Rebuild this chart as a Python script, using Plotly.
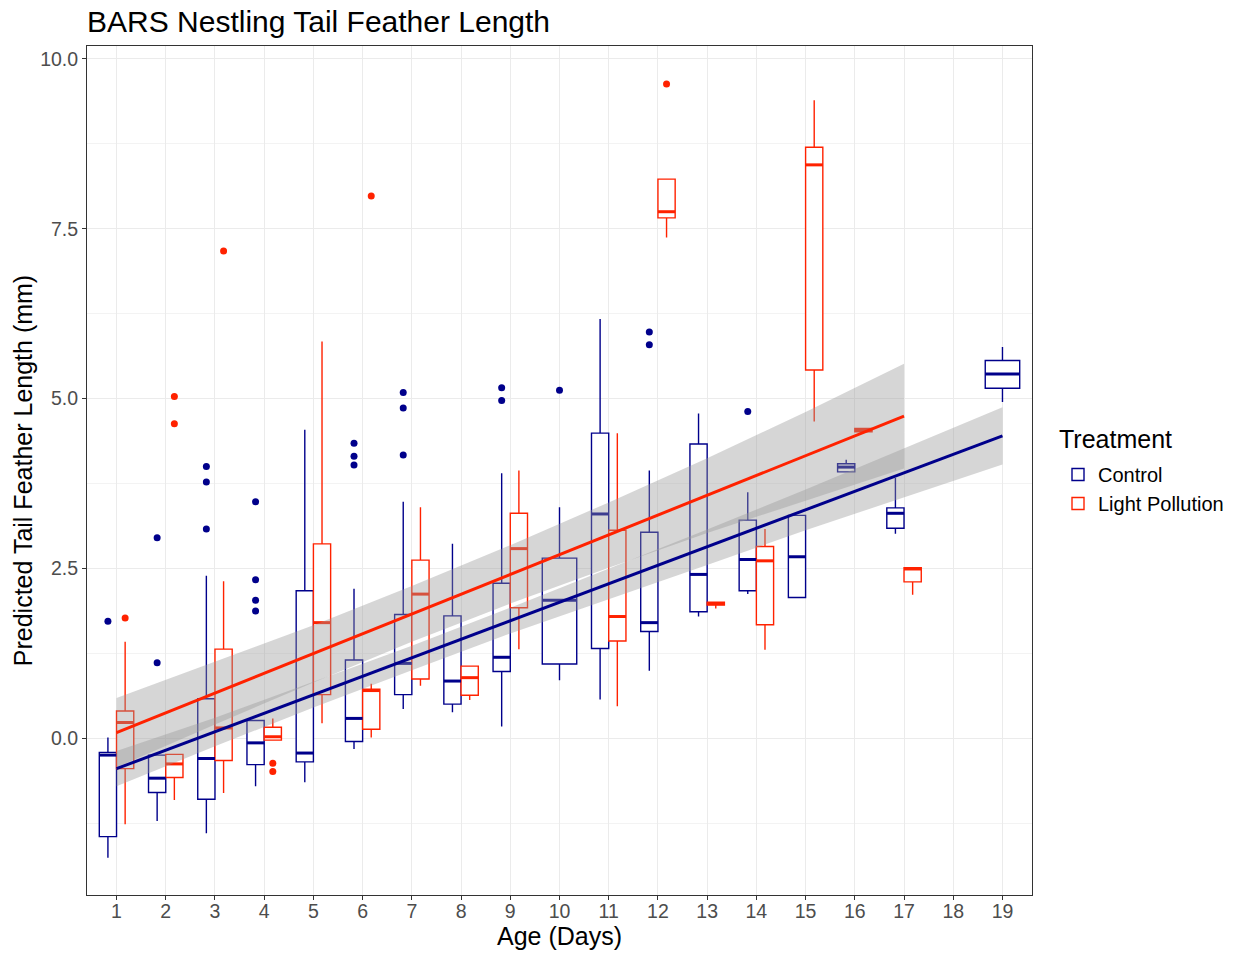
import plotly.graph_objects as go

# ---------------- data ----------------
ctrl_age  = [1, 2, 3, 4, 5, 6, 7, 8, 9, 10, 11, 12, 13, 14, 15, 16, 17, 19]
ctrl_low  = [-1.76, -1.22, -1.40, -0.71, -0.65, -0.16, 0.43, 0.38, 0.17, 0.85, 0.57, 0.99, 1.79, 2.12, 2.07, 3.92, 3.01, 4.95]
ctrl_q1   = [-1.45, -0.80, -0.90, -0.39, -0.35, -0.05, 0.64, 0.50, 0.98, 1.09, 1.32, 1.57, 1.86, 2.17, 2.07, 3.92, 3.09, 5.15]
ctrl_med  = [-0.25, -0.59, -0.30, -0.07, -0.22, 0.29, 1.10, 0.84, 1.19, 2.03, 3.30, 1.70, 2.41, 2.63, 2.67, 3.99, 3.31, 5.36]
ctrl_q3   = [-0.21, -0.25, 0.58, 0.26, 2.17, 1.15, 1.82, 1.80, 2.28, 2.65, 4.49, 3.03, 4.33, 3.21, 3.28, 4.04, 3.39, 5.56]
ctrl_high = [0.01, -0.25, 2.39, 0.26, 4.54, 2.20, 3.48, 2.86, 3.90, 3.40, 6.17, 3.94, 4.78, 3.62, 3.28, 4.10, 3.83, 5.76]

lp_age  = [1, 2, 3, 4, 5, 6, 7, 8, 9, 11, 12, 13, 14, 15, 16, 17]
lp_low  = [-1.27, -0.91, -0.81, -0.03, 0.22, 0.01, 0.77, 0.56, 1.31, 0.47, 7.37, 1.91, 1.30, 4.66, 4.51, 2.11]
lp_q1   = [-0.45, -0.58, -0.33, -0.03, 0.64, 0.13, 0.87, 0.63, 1.92, 1.43, 7.66, 1.96, 1.67, 5.42, 4.51, 2.30]
lp_med  = [0.23, -0.38, 0.15, 0.02, 1.70, 0.70, 2.12, 0.89, 2.79, 1.79, 7.75, 1.98, 2.61, 8.44, 4.54, 2.49]
lp_q3   = [0.40, -0.24, 1.31, 0.16, 2.86, 0.72, 2.62, 1.06, 3.31, 3.06, 8.23, 2.00, 2.82, 8.70, 4.56, 2.51]
lp_high = [1.42, -0.24, 2.31, 0.29, 5.84, 0.80, 3.40, 1.06, 3.94, 4.49, 8.23, 2.00, 3.08, 9.39, 4.56, 2.51]

ctrl_out_age = [1, 2, 2, 3, 3, 3, 4, 4, 4, 4, 6, 6, 6, 7, 7, 7, 9, 9, 10, 12, 12, 14]
ctrl_out_val = [1.72, 2.95, 1.11, 4.00, 3.77, 3.08, 3.48, 2.33, 2.03, 1.87, 4.34, 4.15, 4.02,
                5.09, 4.86, 4.17, 5.16, 4.97, 5.12, 5.98, 5.79, 4.81]
lp_out_age = [1, 2, 2, 3, 4, 4, 6, 12]
lp_out_val = [1.77, 5.03, 4.63, 7.17, -0.37, -0.49, 7.98, 9.63]

# linear fits and confidence bands
ctrl_fit_x = [1, 19]
ctrl_fit_y = [-0.45, 4.45]
lp_fit_x = [1, 17]
lp_fit_y = [0.08, 4.74]

ctrl_band_x  = [1, 3, 5, 7, 9, 11, 13, 15, 17, 19]
ctrl_band_lo = [-0.71, -0.12, 0.45, 1.00, 1.54, 2.05, 2.55, 3.06, 3.54, 4.03]
ctrl_band_hi = [-0.19, 0.30, 0.83, 1.36, 1.92, 2.49, 3.07, 3.66, 4.26, 4.87]
lp_band_x  = [1, 3, 5, 7, 9, 11, 13, 15, 17]
lp_band_lo = [-0.43, 0.20, 0.82, 1.42, 1.98, 2.51, 3.02, 3.50, 3.97]
lp_band_hi = [0.59, 1.12, 1.66, 2.24, 2.84, 3.47, 4.12, 4.80, 5.51]

age_ticks = list(range(1, 20))

# ---------------- styling ----------------
BLUE = "#00008B"
RED = "#FF2200"
BAND = "rgba(153,153,153,0.4)"
DODGE = 0.7
FONT = "Liberation Sans, Arial, Helvetica, sans-serif"

W, H = 1236, 956
ML, MR, MT, MB = 87, 204, 46, 61

both = set(ctrl_age) & set(lp_age)


def pos(age, side):
    if age in both:
        return age + side * DODGE / 4, DODGE / 2
    return age, DODGE


fig = go.Figure()


def add_boxes(name, color, ages, low, q1, med, q3, high, side):
    groups = {}
    for i, a in enumerate(ages):
        p, w = pos(a, side)
        g = groups.setdefault(w, {"x": [], "lo": [], "q1": [], "md": [], "q3": [], "hi": []})
        g["x"].append(p); g["lo"].append(low[i]); g["q1"].append(q1[i])
        g["md"].append(med[i]); g["q3"].append(q3[i]); g["hi"].append(high[i])
    first = True
    for w, g in groups.items():
        fig.add_trace(go.Box(
            x=g["x"], q1=g["q1"], median=g["md"], q3=g["q3"],
            lowerfence=g["lo"], upperfence=g["hi"],
            width=w, whiskerwidth=0, boxpoints=False,
            line=dict(color=color, width=1.4), fillcolor="white",
            name=name, legendgroup=name, showlegend=first,
        ))
        first = False
    # thick median bars
    mx, my = [], []
    for i, a in enumerate(ages):
        p, w = pos(a, side)
        mx += [p - w / 2, p + w / 2, None]
        my += [med[i], med[i], None]
    fig.add_trace(go.Scatter(x=mx, y=my, mode="lines", line=dict(color=color, width=3),
                             showlegend=False, hoverinfo="skip", legendgroup=name))


add_boxes("Control", BLUE, ctrl_age, ctrl_low, ctrl_q1, ctrl_med, ctrl_q3, ctrl_high, -1)
add_boxes("Light Pollution", RED, lp_age, lp_low, lp_q1, lp_med, lp_q3, lp_high, +1)

# outliers
fig.add_trace(go.Scatter(x=[pos(a, -1)[0] for a in ctrl_out_age], y=ctrl_out_val, mode="markers",
                         marker=dict(color=BLUE, size=7), showlegend=False))
fig.add_trace(go.Scatter(x=[pos(a, +1)[0] for a in lp_out_age], y=lp_out_val, mode="markers",
                         marker=dict(color=RED, size=7), showlegend=False))

# confidence bands
for bx, lo, hi in [(ctrl_band_x, ctrl_band_lo, ctrl_band_hi), (lp_band_x, lp_band_lo, lp_band_hi)]:
    fig.add_trace(go.Scatter(x=bx + bx[::-1], y=hi + lo[::-1], fill="toself", fillcolor=BAND,
                             line=dict(width=0), mode="lines", showlegend=False, hoverinfo="skip"))

# fitted lines
fig.add_trace(go.Scatter(x=ctrl_fit_x, y=ctrl_fit_y, mode="lines", line=dict(color=BLUE, width=3),
                         showlegend=False))
fig.add_trace(go.Scatter(x=lp_fit_x, y=lp_fit_y, mode="lines", line=dict(color=RED, width=3),
                         showlegend=False))

pw = W - ML - MR
ph = H - MT - MB

fig.add_annotation(text="Treatment", xref="paper", yref="paper",
                   x=(1057 - ML) / pw, y=(H - MB - 439) / ph, xanchor="left", yanchor="middle",
                   showarrow=False, font=dict(size=25, color="black"))

fig.update_layout(
    width=W, height=H,
    margin=dict(l=ML, r=MR, t=MT, b=MB, autoexpand=False),
    paper_bgcolor="white", plot_bgcolor="white",
    boxmode="overlay",
    font=dict(family=FONT, color="black"),
    title=dict(text="BARS Nestling Tail Feather Length", x=0, xref="paper", xanchor="left",
               y=1 - 21 / H, yref="container", yanchor="middle",
               font=dict(size=30, color="black")),
    legend=dict(font=dict(size=20),
                x=(1058 - ML) / pw, xanchor="left", y=(H - MB - 455) / ph, yanchor="top",
                bgcolor="rgba(0,0,0,0)", tracegroupgap=0),
    xaxis=dict(range=[0.4, 19.6], tickmode="array", tickvals=age_ticks,
               ticktext=[str(a) for a in age_ticks], automargin=False,
               showgrid=True, gridcolor="#EBEBEB", gridwidth=1.2, zeroline=False,
               ticks="outside", ticklen=4, tickcolor="#333333", ticklabelstandoff=-5,
               tickfont=dict(size=19.5, color="#4D4D4D"),
               showline=True, linecolor="#333333", linewidth=1, mirror=True,
               title=dict(text="Age (Days)", font=dict(size=25), standoff=4)),
    yaxis=dict(range=[-2.31, 10.19], tick0=0, dtick=2.5, tickformat=".1f", automargin=False,
               showgrid=True, gridcolor="#EBEBEB", gridwidth=1.2, zeroline=False,
               minor=dict(dtick=1.25, tick0=0, showgrid=True, gridcolor="#F3F3F3", gridwidth=1),
               ticks="outside", ticklen=4, tickcolor="#333333",
               tickfont=dict(size=19.5, color="#4D4D4D"),
               showline=True, linecolor="#333333", linewidth=1, mirror=True,
               title=dict(text="Predicted Tail Feather Length (mm)", font=dict(size=25), standoff=0)),
)

fig.write_html("out.html")
